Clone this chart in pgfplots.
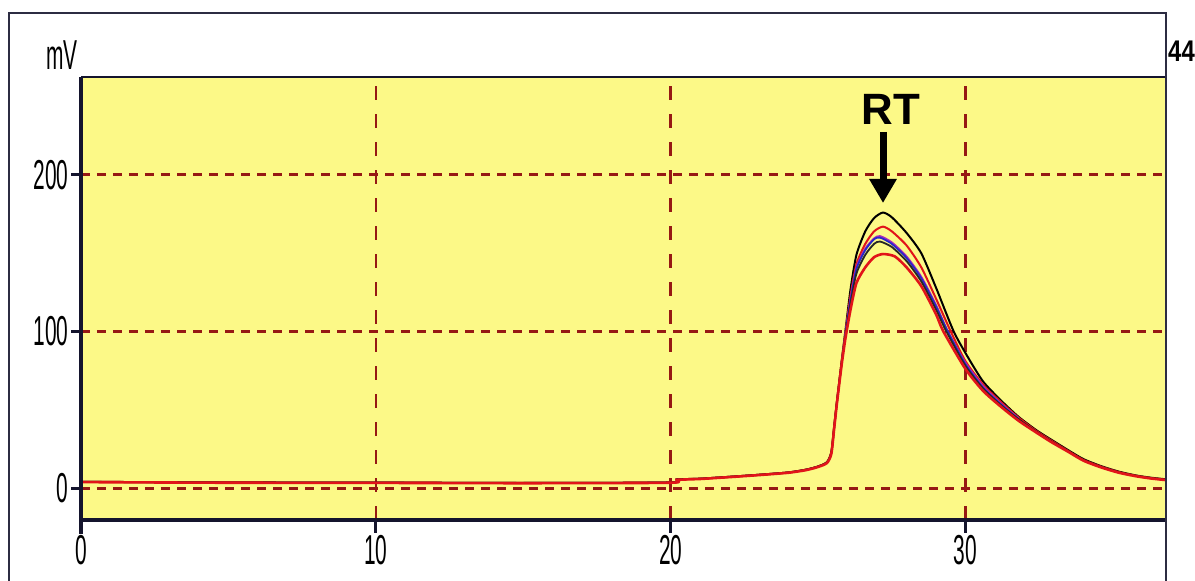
\documentclass[border=0pt]{standalone}
\usepackage{pgfplots}
\pgfplotsset{compat=1.18}
\usepackage{fontspec}
\setmainfont{Liberation Sans}
\newfontfamily\nf[FakeStretch=0.5]{Liberation Sans}
\newfontfamily\nfb[FakeStretch=0.8]{Liberation Sans Bold}
\usetikzlibrary{arrows.meta}
\definecolor{bgy}{RGB}{252,249,135}
\definecolor{grd}{RGB}{150,25,20}
\definecolor{axc}{RGB}{20,20,45}
\definecolor{cr}{RGB}{225,20,25}
\definecolor{cb}{RGB}{40,40,200}
\definecolor{cp}{RGB}{170,40,190}
\begin{document}
\begin{tikzpicture}
\useasboundingbox (-81bp,-61bp) rectangle (1114bp,520bp);
\fill[white] (-81bp,-61bp) rectangle (1114bp,520bp);
\fill[bgy] (0,0) rectangle (1085bp,443bp);
\begin{axis}[
  at={(0,0)}, anchor=south west,
  scale only axis, width=1085bp, height=443bp,
  xmin=0, xmax=36.8, ymin=-20.4, ymax=262.6,
  xtick={0,10,20,30}, ytick={0,100,200},
  tick pos=left, major tick length=0pt,
  axis line style={draw=none},
  xmajorgrids, ymajorgrids,
  major x grid style={draw=grd, line width=2.5bp, dash pattern=on 14bp off 14bp},
  major y grid style={draw=grd, line width=3bp, dash pattern=on 9bp off 7bp},
  /pgf/number format/assume math mode=true,
  ticklabel style={font=\nf\fontsize{42}{42}\selectfont},
  xticklabel style={yshift=-12bp},
  yticklabel style={xshift=-9bp},
  clip=true,
]
% black (highest)
\addplot[black, line width=2bp, smooth, tension=0.4] coordinates {
(0,4) (5,3.6) (10,3.5) (15,3.3) (20,3.6) (20.2,5.5) (21,6) (22,7.2) (23,8.5) (24,10) (24.6,11.8) (25,13.8) (25.3,16.5) (25.45,23) (25.55,40) (25.65,57) (25.8,81) (25.93,101) (26.1,127) (26.3,149) (26.6,164) (26.9,172.5) (27.2,176) (27.5,173) (28.0,163) (28.5,150) (29.0,128) (29.6,100) (30.1,83) (30.6,68) (31.2,56) (31.8,45.5) (32.4,37) (32.9,31) (33.5,24) (34.0,18.5) (34.6,14) (35.2,10.5) (35.8,8) (36.3,6.6) (36.8,5.6)};
% red
\addplot[cr, line width=2bp, smooth, tension=0.4] coordinates {
(0,4) (5,3.6) (10,3.5) (15,3.3) (20,3.6) (20.2,5.5) (21,6) (22,7.2) (23,8.5) (24,10) (24.6,11.8) (25,13.8) (25.3,16.5) (25.45,23) (25.55,40) (25.65,57) (25.8,81) (25.93,100) (26.1,123) (26.3,143) (26.6,156) (26.9,164) (27.2,167) (27.5,164) (28.0,155) (28.5,141) (29.0,121) (29.5,100) (30.0,81) (30.6,66) (31.2,55) (31.8,45) (32.4,36.5) (32.9,30.5) (33.5,23.5) (34.0,18) (34.6,13.7) (35.2,10.2) (35.8,7.8) (36.3,6.4) (36.8,5.4)};
% purple / blue
\addplot[cp, line width=1.8bp, smooth, tension=0.4] coordinates {
(25.8,80) (25.93,99) (26.1,121) (26.3,141) (26.6,153) (26.9,159.5) (27.1,161) (27.5,157) (28.0,148) (28.5,135) (29.0,117) (29.4,100) (30.0,80) (30.6,65) (31.2,54) (31.8,44.5)};
\addplot[cb, line width=1.8bp, smooth, tension=0.4] coordinates {
(25.93,99) (26.1,120) (26.3,140) (26.6,152) (26.9,159) (27.1,160) (27.5,156) (28.0,147) (28.5,134) (29.0,116) (29.4,100) (30.0,79) (30.6,64) (31.2,53.5) (31.8,44)};
% dark line just below blue
\addplot[black!85, line width=1.8bp, smooth, tension=0.4] coordinates {
(0,4) (5,3.6) (10,3.5) (15,3.3) (20,3.6) (20.2,5.5) (21,6) (22,7.2) (23,8.5) (24,10) (24.6,11.8) (25,13.8) (25.3,16.5) (25.45,23) (25.55,40) (25.65,57) (25.8,80) (25.93,98) (26.1,118) (26.3,137) (26.6,149) (26.9,156) (27.1,157.5) (27.5,154) (28.0,145) (28.5,132) (29.0,114) (29.35,100) (30.0,78) (30.6,63.5) (31.2,53) (31.8,44) (32.4,36) (32.9,30) (33.5,23.2) (34.0,17.8) (34.6,13.5) (35.2,10) (35.8,7.7) (36.3,6.3) (36.8,5.3)};
% red (lowest)
\addplot[cr, line width=2.6bp, smooth, tension=0.4] coordinates {
(0,3.8) (5,3.4) (10,3.3) (15,3.1) (20,3.4) (20.2,5.2) (21,5.8) (22,7) (23,8.3) (24,9.8) (24.6,11.5) (25,13.5) (25.3,16) (25.45,22) (25.55,39) (25.65,56) (25.8,79) (25.93,96) (26.1,114) (26.3,131) (26.6,141) (26.9,147.5) (27.2,149.5) (27.6,148) (28.0,141) (28.5,129) (29.0,111) (29.25,100) (30.0,76) (30.6,62) (31.2,52) (31.8,43) (32.4,35.5) (32.9,29.5) (33.5,23) (34.0,17.5) (34.6,13.2) (35.2,9.8) (35.8,7.5) (36.3,6.1) (36.8,5.1)};
\end{axis}
% plot frame
\draw[axc, line width=3bp] (0,443bp) -- (0,-14bp);
\draw[axc, line width=3bp] (-1.5bp,0) -- (1085bp,0);
\draw[axc, line width=2.2bp] (0,443bp) -- (1085bp,443bp);
% tick marks
\draw[axc, line width=3bp] (294.84bp,0) -- (294.84bp,-13bp);
\draw[axc, line width=3bp] (589.67bp,0) -- (589.67bp,-13bp);
\draw[axc, line width=3bp] (884.51bp,0) -- (884.51bp,-13bp);
\draw[axc, line width=3bp] (0,31.93bp) -- (-10bp,31.93bp);
\draw[axc, line width=3bp] (0,188.47bp) -- (-10bp,188.47bp);
\draw[axc, line width=3bp] (0,345bp) -- (-10bp,345bp);
% outer frame
\draw[axc!90, line width=2bp] (-72bp,-61bp) -- (-72bp,507bp) -- (1085bp,507bp) -- (1085bp,-61bp);
% texts
\node[anchor=base east, inner sep=0pt, font=\nf\fontsize{42}{42}\selectfont] at (-3bp,450bp) {mV};
\node[anchor=base west, inner sep=0pt, font=\nfb\fontsize{30}{30}\selectfont] at (1087bp,458bp) {44};
\node[anchor=base, inner sep=0pt, font=\bfseries\fontsize{44}{44}\selectfont] at (810bp,395bp) {RT};
\draw[black, line width=7bp, -{Triangle[width=26bp,length=24bp]}] (802bp,388bp) -- (802bp,317bp);
\end{tikzpicture}
\end{document}
